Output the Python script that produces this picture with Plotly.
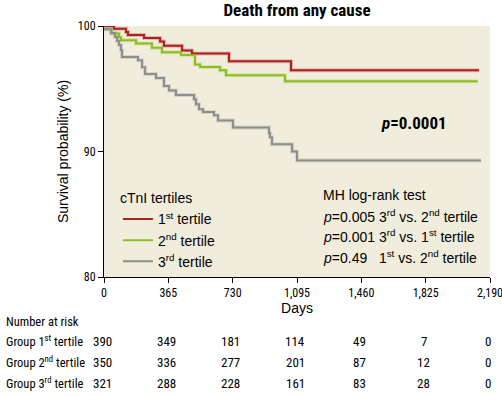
import plotly.graph_objects as go

# ---- data ----
days_t1 = [0, 57, 125, 136, 227, 318, 340, 443, 499, 709, 1061, 2128]
surv_t1 = [100, 99.78, 99.52, 99.28, 99.04, 98.76, 98.42, 98.04, 97.8, 97.2, 96.48, 96.48]

days_t2 = [0, 42, 85, 96, 182, 272, 329, 437, 516, 545, 658, 692, 1027, 2120]
surv_t2 = [99.76, 99.4, 99.1, 98.86, 98.6, 98.26, 97.9, 97.68, 96.94, 96.74, 96.48, 96.08, 95.6, 95.6]

days_t3 = [0, 40, 62, 74, 85, 96, 102, 193, 216, 233, 295, 340, 369, 408, 511, 522, 539,
           562, 624, 647, 732, 936, 942, 953, 1067, 1095, 2139]
surv_t3 = [99.74, 99.44, 99.12, 98.8, 98.48, 98.08, 97.52, 97.28, 96.72, 96.18, 95.86, 95.22,
           94.86, 94.5, 94.16, 93.76, 93.36, 93.14, 92.88, 92.48, 91.92, 91.46, 91.14, 90.58,
           90.0, 89.28, 89.28]

series_names = ["1<sup>st</sup> tertile", "2<sup>nd</sup> tertile", "3<sup>rd</sup> tertile"]
series_colors = ["#B01E22", "#8CBE22", "#8E8E8E"]

tick_days = [0, 365, 730, 1095, 1460, 1825, 2190]
tick_labels = ["0", "365", "730", "1,095", "1,460", "1,825", "2,190"]
y_ticks = [80, 90, 100]

risk_labels = ["Group 1<sup>st</sup> tertile", "Group 2<sup>nd</sup> tertile", "Group 3<sup>rd</sup> tertile"]
risk_t1 = [390, 349, 181, 114, 49, 7, 0]
risk_t2 = [350, 336, 277, 201, 87, 12, 0]
risk_t3 = [321, 288, 228, 161, 83, 28, 0]

logrank_lines = [
    "MH log-rank test",
    "<i>p</i>=0.005 3<sup>rd</sup> vs. 2<sup>nd</sup> tertile",
    "<i>p</i>=0.001 3<sup>rd</sup> vs. 1<sup>st</sup> tertile",
    "<i>p</i>=0.49   1<sup>st</sup> vs. 2<sup>nd</sup> tertile",
]

COND = "Roboto Condensed, Liberation Sans Narrow, DejaVu Sans Condensed, sans-serif"
REG = "Liberation Sans, Arial, sans-serif"

fig = go.Figure()
all_days = [days_t1, days_t2, days_t3]
all_surv = [surv_t1, surv_t2, surv_t3]

# soft halo under each curve
for d, s, c in zip(all_days, all_surv, series_colors):
    fig.add_trace(go.Scatter(x=d, y=s, mode="lines", line=dict(color=c, width=4, shape="hv"),
                             opacity=0.25, showlegend=False, hoverinfo="skip"))
for d, s, c, n in zip(all_days, all_surv, series_colors, series_names):
    fig.add_trace(go.Scatter(x=d, y=s, mode="lines", name=n,
                             line=dict(color=c, width=2, shape="hv")))

fig.update_layout(
    width=502, height=396,
    margin=dict(l=104, r=12, t=26, b=119, autoexpand=False),
    paper_bgcolor="white",
    plot_bgcolor="#F1EDDC",
    title=dict(text="<b>Death from any cause</b>", x=0.5917, xanchor="center", y=0.974, yanchor="middle",
               font=dict(family=COND, size=17, color="black")),
    font=dict(family=REG, color="black"),
    showlegend=True,
    legend=dict(x=0.036, y=0.366, xanchor="left", yanchor="top",
                bgcolor="rgba(0,0,0,0)", font=dict(family=REG, size=14),
                title=dict(text="cTnI tertiles", font=dict(family=REG, size=14)),
                tracegroupgap=0, itemwidth=30),
    xaxis=dict(range=[0, 2190], tickvals=tick_days, ticktext=tick_labels, automargin=False,
               ticklabeloverflow="allow",
               showgrid=False, zeroline=False, showline=True, linecolor="black", linewidth=1,
               ticks="outside", ticklen=5, tickcolor="black",
               tickfont=dict(family=COND, size=12),
               title=dict(text="Days", font=dict(family=REG, size=14), standoff=3)),
    yaxis=dict(range=[80, 100], tickvals=y_ticks, automargin=False,
               showgrid=False, zeroline=False, showline=True, linecolor="black", linewidth=1,
               ticks="outside", ticklen=5, tickcolor="black",
               tickfont=dict(family=COND, size=12),
               title=dict(text="Survival probability (%)", font=dict(family=REG, size=14), standoff=5)),
)

# p value
fig.add_annotation(x=0.802, y=0.615, xref="paper", yref="paper", showarrow=False,
                   text="<b><i>p</i>=0.0001</b>", font=dict(family=COND, size=17),
                   xanchor="center", yanchor="middle")

# log-rank text block
lr_y = [195, 216, 236, 257]
for t, ypx in zip(logrank_lines, lr_y):
    fig.add_annotation(x=(321 - 104) / 386, y=(277 - ypx) / 251, xref="paper", yref="paper",
                       showarrow=False, text=t, font=dict(family=REG, size=14),
                       xanchor="left", yanchor="middle")

# number at risk table
fig.add_annotation(x=(4 - 104) / 386, y=(277 - 321) / 251, xref="paper", yref="paper",
                   showarrow=False, text="Number at risk", font=dict(family=COND, size=12.5),
                   xanchor="left", yanchor="middle")
row_y = [341, 362, 383]
for lbl, vals, ypx in zip(risk_labels, [risk_t1, risk_t2, risk_t3], row_y):
    fig.add_annotation(x=(4 - 104) / 386, y=(277 - ypx) / 251, xref="paper", yref="paper",
                       showarrow=False, text=lbl, font=dict(family=COND, size=12.5),
                       xanchor="left", yanchor="middle")
    for dx, v in zip(tick_days, vals):
        fig.add_annotation(x=dx, y=(277 - ypx) / 251, xref="x", yref="paper",
                           showarrow=False, text=str(v), font=dict(family=COND, size=13),
                           xanchor="center", yanchor="middle", xshift=-2)

fig.write_html("out.html", config={"displayModeBar": False},
               post_script="document.body.style.margin='0px';")
